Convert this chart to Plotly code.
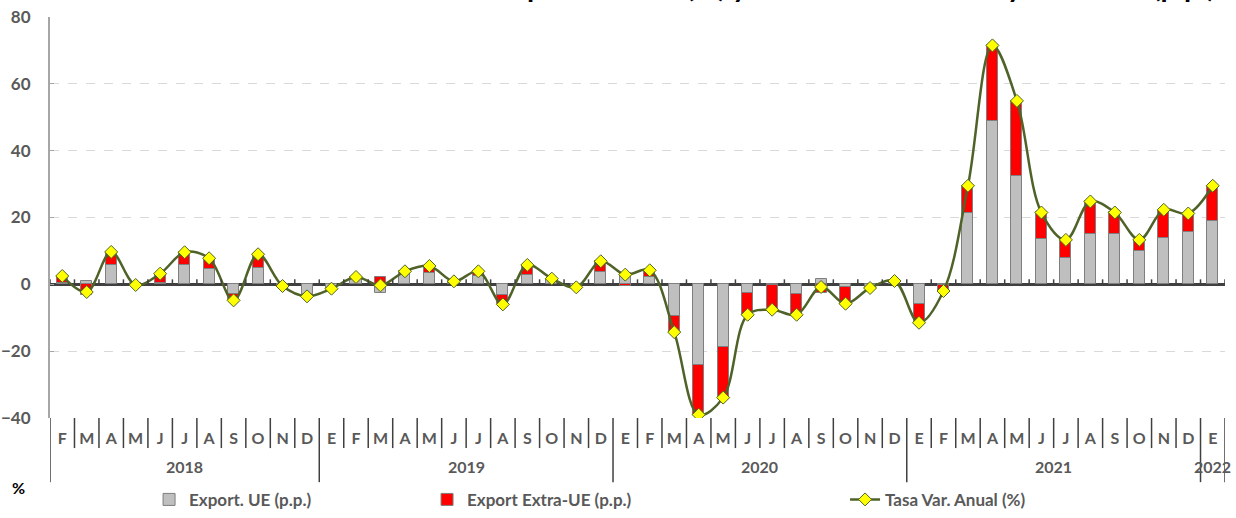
import plotly.graph_objects as go

months = ["F","M","A","M","J","J","A","S","O","N","D",
          "E","F","M","A","M","J","J","A","S","O","N","D",
          "E","F","M","A","M","J","J","A","S","O","N","D",
          "E","F","M","A","M","J","J","A","S","O","N","D",
          "E"]
years = ["2018"]*11 + ["2019"]*12 + ["2020"]*12 + ["2021"]*12 + ["2022"]

tasa = [2.5, -2.3, 9.7, -0.2, 3.2, 9.6, 7.8, -4.8, 9.0, -0.5, -3.6,
        -1.3, 2.2, -0.3, 3.9, 5.5, 0.9, 3.9, -6.0, 5.8, 1.7, -0.9, 6.9,
        2.9, 4.2, -14.3, -39.0, -33.9, -9.1, -7.6, -9.1, -0.8, -5.8, -1.1, 1.0,
        -11.5, -2.0, 29.5, 71.5, 54.9, 21.5, 13.3, 24.8, 21.5, 13.3, 22.3, 21.2,
        29.5]
ue = [0.5, 1.0, 5.7, 0.3, 0.5, 5.7, 4.5, -2.8, 4.9, -0.3, -3.0,
      -1.0, 1.8, -2.6, 3.0, 3.5, 0.7, 2.5, -3.3, 2.9, 1.5, -0.5, 3.7,
      3.5, 2.3, -9.5, -24.2, -18.8, -2.6, -0.2, -2.8, 1.7, -0.8, -1.0, 0.7,
      -5.8, -0.3, 21.2, 49.0, 32.3, 13.5, 7.8, 15.0, 15.0, 10.0, 14.0, 15.8,
      19.0]
extra = [2.0, -3.3, 4.0, -0.5, 2.7, 3.9, 3.3, -2.0, 4.1, -0.2, -0.6,
         -0.3, 0.4, 2.3, 0.9, 2.0, 0.2, 1.4, -2.7, 2.9, 0.2, -0.4, 3.2,
         -0.6, 1.9, -4.8, -14.8, -15.1, -6.5, -7.4, -6.3, -2.5, -5.0, -0.1, 0.3,
         -5.7, -1.7, 8.3, 22.5, 22.6, 8.0, 5.5, 9.8, 6.5, 3.3, 8.3, 5.4,
         10.5]

y_ticks = [-40, -20, 0, 20, 40, 60, 80]
title_text = "Gráfico 2. Tasa de variación anual de exportaciones (%) y contribución de UE y Extra-UE (p.p.)"

FONT = "Lato"
GREY_TXT = "#595959"
n = len(months)
x = list(range(n))

fig = go.Figure()
fig.add_trace(go.Bar(x=x, y=ue, name="Export. UE (p.p.)", width=0.45,
                     marker=dict(color="#BFBFBF", line=dict(color="#7F7F7F", width=1)),
                     legend="legend"))
fig.add_trace(go.Bar(x=x, y=extra, name="Export Extra-UE (p.p.)", width=0.45,
                     marker=dict(color="#FF0000", line=dict(color="#7F7F7F", width=1)),
                     legend="legend2"))
fig.add_trace(go.Scatter(x=x, y=tasa, name="Tasa Var. Anual (%)", mode="lines+markers",
                         line=dict(color="#4F6228", width=2.5, shape="spline", smoothing=1),
                         marker=dict(symbol="diamond", size=10, color="#FFFF00",
                                     line=dict(color="#4F6228", width=1)),
                         legend="legend3"))

shapes = []
# small tick marks on the zero line at category boundaries
for i in range(n + 1):
    shapes.append(dict(type="line", xref="x", yref="y", x0=i - 0.5, x1=i - 0.5,
                       ysizemode="pixel", yanchor=0, y0=0, y1=5,
                       line=dict(color="#404040", width=1.5)))
# separators in the category label area
for i in range(n + 1):
    long_sep = (i == 0) or (i == n) or (years[i] != years[i - 1])
    shapes.append(dict(type="line", xref="x", yref="paper", x0=i - 0.5, x1=i - 0.5,
                       y0=0, y1=-0.16 if long_sep else -0.075,
                       line=dict(color="#404040", width=1.5)))

annotations = []
for yr in sorted(set(years)):
    idx = [i for i, v in enumerate(years) if v == yr]
    annotations.append(dict(x=sum(idx) / len(idx), y=-0.122, xref="x", yref="paper",
                            text=yr, showarrow=False, yanchor="middle", xanchor="center",
                            font=dict(family=FONT, size=16, color=GREY_TXT, weight="bold")))
annotations.append(dict(x=(18 - 50) / 1175, y=-(487 - 418) / 401, xref="paper", yref="paper",
                        text="%", showarrow=False, xanchor="center", yanchor="middle",
                        font=dict(family=FONT, size=16, color="#000000", weight="bold")))
annotations.append(dict(x=0.485, y=1.029, xref="paper", yref="paper", text=title_text,
                        showarrow=False, yanchor="bottom", xanchor="center",
                        font=dict(family=FONT, size=29, color="#000000", weight="bold")))

legfont = dict(family=FONT, size=17, color=GREY_TXT, weight="bold")
fig.update_layout(
    width=1236, height=518,
    margin=dict(l=50, r=11, t=17, b=100, autoexpand=False),
    paper_bgcolor="white", plot_bgcolor="white",
    barmode="relative", bargap=0,
    xaxis=dict(range=[-0.5, n - 0.5], tickmode="array", tickvals=x, ticktext=months,
               showgrid=False, zeroline=False, showline=False, ticks="",
               ticklabelstandoff=9, automargin=False,
               tickfont=dict(family=FONT, size=16, color=GREY_TXT, weight="bold")),
    yaxis=dict(range=[-40, 80], tickmode="array", tickvals=y_ticks, automargin=False,
               showgrid=True, gridcolor="#D9D9D9", griddash="dash", gridwidth=1,
               zeroline=True, zerolinecolor="#404040", zerolinewidth=2.5,
               showline=True, linecolor="#A6A6A6", linewidth=2,
               ticks="inside", ticklen=4, tickcolor="#A6A6A6",
               ticklabelstandoff=14,
               tickfont=dict(family=FONT, size=17, color=GREY_TXT, weight="bold")),
    legend=dict(x=0.1206, y=0.035, xref="container", yref="container",
                xanchor="left", yanchor="middle", orientation="h",
                font=legfont, bgcolor="rgba(0,0,0,0)"),
    legend2=dict(x=0.3455, y=0.035, xref="container", yref="container",
                 xanchor="left", yanchor="middle", orientation="h",
                 font=legfont, bgcolor="rgba(0,0,0,0)"),
    legend3=dict(x=0.6837, y=0.035, xref="container", yref="container",
                 xanchor="left", yanchor="middle", orientation="h",
                 font=legfont, bgcolor="rgba(0,0,0,0)"),
    shapes=shapes, annotations=annotations, showlegend=True,
)

fig.write_html("out.html", config={"displayModeBar": False},
               post_script="document.body.style.margin='0px';")
